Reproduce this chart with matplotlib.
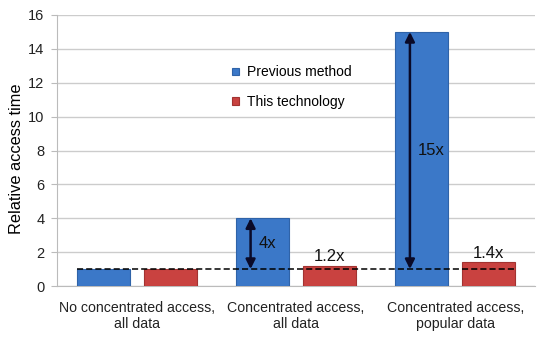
import numpy as np
import matplotlib.pyplot as plt

plt.rcParams['font.family'] = ['Liberation Sans', 'DejaVu Sans']

# data
categories = ['No concentrated access,\nall data', 'Concentrated access,\nall data',
              'Concentrated access,\npopular data']
previous = [1.0, 4.0, 15.0]
this_tech = [1.0, 1.2, 1.4]
ratio_labels_prev = ['', '4x', '15x']
ratio_labels_tech = ['', '1.2x', '1.4x']
baseline = 1.0

fig = plt.figure(figsize=(5.4, 3.49), dpi=100)
ax = fig.add_axes([57 / 540, 1 - 286 / 349, 478 / 540, 271 / 349])

x = np.arange(len(categories))
w = 0.333
off = 0.21
ax.bar(x - off, previous, w, color='#3B78C8', edgecolor='#2F63A8', linewidth=0.8,
       label='Previous method', zorder=3)
ax.bar(x + off, this_tech, w, color='#C94240', edgecolor='#A23331', linewidth=0.8,
       label='This technology', zorder=3)

# baseline
ax.plot([x[0] - off - w / 2, x[-1] + off + w / 2], [baseline, baseline],
        color='black', ls='--', lw=1.1, dashes=(4, 2), zorder=4)

# arrows + labels
for i in range(1, len(categories)):
    xa = x[i] - off - 0.075
    ax.annotate('', xy=(xa, previous[i]), xytext=(xa, baseline),
                arrowprops=dict(arrowstyle='<|-|>', color='#0A0A28', lw=1.8,
                                mutation_scale=14, shrinkA=0, shrinkB=0), zorder=5)
    ax.text(xa + 0.05, (previous[i] + baseline) / 2, ratio_labels_prev[i],
            fontsize=12, ha='left', va='center', color='#111111', zorder=6)
    ax.text(x[i] + off, this_tech[i] + 0.1, ratio_labels_tech[i],
            fontsize=12, ha='center', va='bottom', color='#111111', zorder=6)

ax.set_xlim(-0.5, 2.5)
ax.set_ylim(0, 16)
ax.set_yticks(range(0, 17, 2))
ax.set_xticks(x)
ax.set_xticklabels(categories, fontsize=10.2, color='#222222')
ax.tick_params(axis='y', labelsize=10.5, colors='#222222', length=4, color='#BBBBBB', pad=5)
ax.tick_params(axis='x', length=0, pad=11)
ax.set_ylabel('Relative access time', fontsize=11.8)
ax.yaxis.set_label_coords(-0.069, 0.47)
ax.grid(axis='y', color='#CCCCCC', lw=1, zorder=0)
for s in ['top', 'right']:
    ax.spines[s].set_visible(False)
ax.spines['left'].set_color('#BBBBBB')
ax.spines['bottom'].set_color('#BBBBBB')

ax.legend(loc='upper left', bbox_to_anchor=(0.34, 0.86), frameon=False, fontsize=10,
          handlelength=0.5, handleheight=0.5, labelspacing=1.1, handletextpad=0.6)

fig.savefig('out.png', dpi=100)
